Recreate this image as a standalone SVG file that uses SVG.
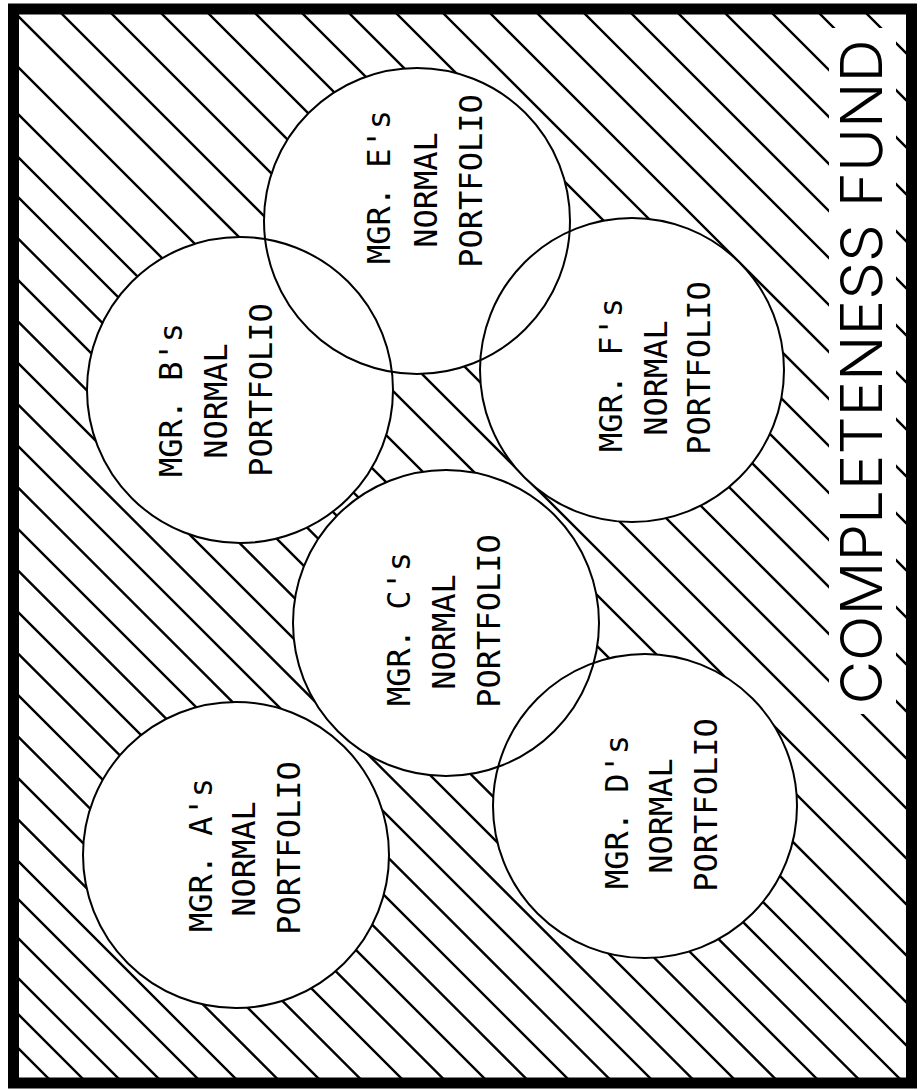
<svg xmlns="http://www.w3.org/2000/svg" width="920" height="1090" viewBox="0 0 920 1090">
  <style>
    .hatch { fill: none; stroke: #000; stroke-width: 2.4; }
    .bg { fill: #fff; stroke: none; }
    .ring { fill: none; stroke: #000; stroke-width: 2; }
    .lbl { font-family: "DejaVu Sans Mono", "Liberation Mono", monospace; font-size: 32px; fill: #000; text-anchor: middle; }
    .title { font-family: "Inter", "Liberation Sans", sans-serif; font-weight: 300; font-size: 58px; fill: #000; text-anchor: middle; }
  </style>
  <defs>
    <clipPath id="inner">
      <rect x="19" y="14" width="887" height="1064"/>
    </clipPath>
  </defs>
  <rect x="0" y="0" width="920" height="1090" fill="#fff"/>
  <g id="hatching" clip-path="url(#inner)">
    <path class="hatch" d="M900,0 l1100,1100 M853,0 l1100,1100 M806,0 l1100,1100 M759,0 l1100,1100 M712,0 l1100,1100 M665,0 l1100,1100 M618,0 l1100,1100 M571,0 l1100,1100 M524,0 l1100,1100 M477,0 l1100,1100 M430,0 l1100,1100 M383,0 l1100,1100 M336,0 l1100,1100 M289,0 l1100,1100 M242,0 l1100,1100 M195,0 l1100,1100 M148,0 l1100,1100 M98,0 l1100,1100 M48,0 l1100,1100 M2,0 l1100,1100 M-49,0 l1100,1100 M-96,0 l1100,1100 M-139,0 l1100,1100 M-179,0 l1100,1100 M-220.5,0 l1100,1100 M-262,0 l1100,1100 M-303.5,0 l1100,1100 M-345,0 l1100,1100 M-386.5,0 l1100,1100 M-428,0 l1100,1100 M-469.5,0 l1100,1100 M-511,0 l1100,1100 M-552.5,0 l1100,1100 M-594,0 l1100,1100 M-635.5,0 l1100,1100 M-677,0 l1100,1100 M-718.5,0 l1100,1100 M-760,0 l1100,1100 M-801.5,0 l1100,1100 M-843,0 l1100,1100 M-881,0 l1100,1100 M-920,0 l1100,1100 M-960,0 l1100,1100 M-996,0 l1100,1100 M-1030,0 l1100,1100"/>
  </g>
  <g id="circle-backgrounds">
    <circle class="bg" cx="236" cy="855" r="153"/>
    <circle class="bg" cx="240" cy="390" r="153"/>
    <circle class="bg" cx="446" cy="623" r="153"/>
    <circle class="bg" cx="645" cy="806" r="152"/>
    <circle class="bg" cx="417" cy="221" r="153"/>
    <circle class="bg" cx="632" cy="370" r="152"/>
    <rect class="bg" x="829" y="28" width="67" height="686"/>
  </g>
  <g id="connectors"></g>
  <g id="mgr-a">
    <circle class="ring" cx="236" cy="855" r="153"/>
    <text class="lbl" transform="translate(212,855) rotate(-90)">MGR. A's</text>
    <text class="lbl" transform="translate(255,859) rotate(-90)">NORMAL</text>
    <text class="lbl" transform="translate(300,848) rotate(-90)">PORTFOLIO</text>
  </g>
  <g id="mgr-b">
    <circle class="ring" cx="240" cy="390" r="153"/>
    <text class="lbl" transform="translate(182,400) rotate(-90)">MGR. B's</text>
    <text class="lbl" transform="translate(227,401) rotate(-90)">NORMAL</text>
    <text class="lbl" transform="translate(272,390) rotate(-90)">PORTFOLIO</text>
  </g>
  <g id="mgr-c">
    <circle class="ring" cx="446" cy="623" r="153"/>
    <text class="lbl" transform="translate(410,629) rotate(-90)">MGR. C's</text>
    <text class="lbl" transform="translate(455,632) rotate(-90)">NORMAL</text>
    <text class="lbl" transform="translate(500,621) rotate(-90)">PORTFOLIO</text>
  </g>
  <g id="mgr-d">
    <circle class="ring" cx="645" cy="806" r="152"/>
    <text class="lbl" transform="translate(628,812) rotate(-90)">MGR. D's</text>
    <text class="lbl" transform="translate(672,816) rotate(-90)">NORMAL</text>
    <text class="lbl" transform="translate(717,805) rotate(-90)">PORTFOLIO</text>
  </g>
  <g id="mgr-e">
    <circle class="ring" cx="417" cy="221" r="153"/>
    <text class="lbl" transform="translate(390,187) rotate(-90)">MGR. E's</text>
    <text class="lbl" transform="translate(437,190) rotate(-90)">NORMAL</text>
    <text class="lbl" transform="translate(482,181) rotate(-90)">PORTFOLIO</text>
  </g>
  <g id="mgr-f">
    <circle class="ring" cx="632" cy="370" r="152"/>
    <text class="lbl" transform="translate(622,375) rotate(-90)">MGR. F's</text>
    <text class="lbl" transform="translate(667,378) rotate(-90)">NORMAL</text>
    <text class="lbl" transform="translate(710,368) rotate(-90)">PORTFOLIO</text>
  </g>
  <g id="title">
    <text class="title" transform="translate(882,372) rotate(-90)" textLength="665" lengthAdjust="spacingAndGlyphs">COMPLETENESS FUND</text>
  </g>
  <rect id="frame" x="13.5" y="9" width="898" height="1074" fill="none" stroke="#000" stroke-width="11"/>
</svg>
